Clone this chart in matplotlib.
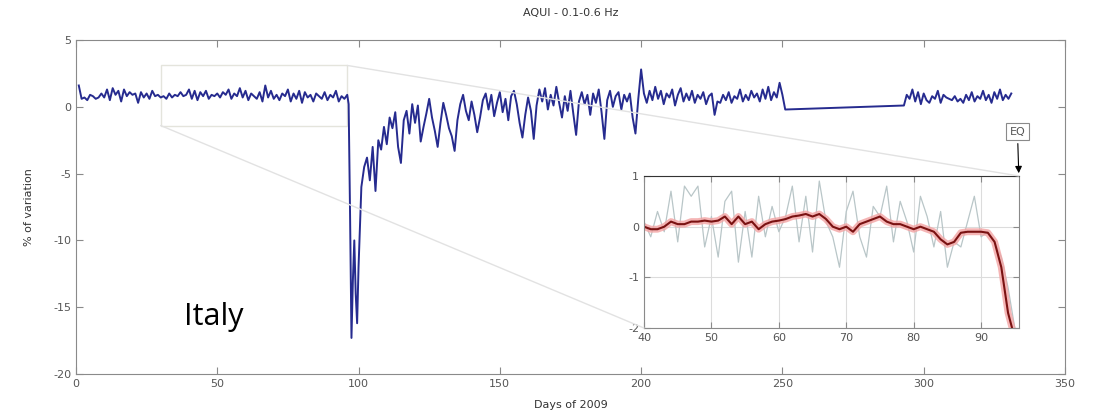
import numpy as np
import matplotlib
matplotlib.use("Agg")
import matplotlib.pyplot as plt
from matplotlib.patches import Rectangle, ConnectionPatch

plt.rcParams["axes.unicode_minus"] = False

# main series: days of 2009 and % of variation
days_a = list(range(1, 97))
vals_a = [1.6, 0.6, 0.7, 0.5, 0.9, 0.8, 0.6, 0.7, 1.0, 0.7, 1.3, 0.5, 1.4, 0.9, 1.2, 0.4,
          1.3, 0.8, 1.1, 0.9, 1.0, 0.3, 1.1, 0.7, 1.0, 0.6, 1.2, 0.8, 0.9, 0.7, 0.8, 0.6,
          1.0, 0.7, 0.9, 0.8, 1.1, 0.8, 0.9, 1.3, 0.6, 1.2, 0.5, 1.1, 0.8, 1.2, 0.6, 0.9,
          0.8, 1.0, 0.7, 1.1, 0.9, 1.3, 0.6, 1.0, 0.8, 1.4, 0.7, 1.2, 0.5, 1.0, 0.8, 0.6,
          1.1, 0.4, 1.6, 0.7, 1.2, 0.6, 0.9, 0.5, 1.0, 0.8, 1.3, 0.4, 1.0, 0.6, 1.2, 0.3,
          1.1, 0.7, 0.9, 0.4, 1.0, 0.8, 0.6, 1.1, 0.5, 0.9, 0.7, 1.2, 0.4, 0.8, 0.6, 0.9]

days_drop = [96.5, 97, 97.5, 98, 98.5, 99, 99.5, 100, 100.5]
vals_drop = [0.2, -8.0, -17.3, -13.0, -10.0, -14.0, -16.2, -12.0, -9.0]

days_b = list(range(101, 252))
vals_b = [-6.0, -4.5, -3.8, -5.5, -3.0, -6.3, -2.5, -3.2, -1.5, -2.8, -0.8, -1.6, -0.4,
          -3.0, -4.2, -1.0, -0.3, -2.0, 0.2, -1.2, 0.1, -2.6, -1.5, -0.5, 0.6, -0.8,
          -1.8, -3.0, -1.2, 0.3, -0.6, -1.6, -2.2, -3.3, -1.0, 0.2, 0.9, -0.3, -1.0,
          0.4, -0.6, -1.9, -0.8, 0.5, 1.0, -0.2, 0.9, -0.7, 0.3, 1.1, -0.4, 0.6, -1.0,
          0.8, 1.2, 0.2, -1.2, -2.3, -0.6, 0.7, -0.3, -2.4, 0.1, 1.3, 0.4, 1.4, -0.2,
          0.9, 0.1, 1.5, 0.3, -0.8, 0.8, -0.3, 1.2, -0.5, -2.1, 0.4, 1.1, 0.2, 0.9,
          -0.6, 1.0, 0.3, 1.3, -0.4, -2.4, 0.5, 1.2, 0.0, 0.8, 1.1, -0.2, 0.9, 0.4,
          1.0, -0.8, -2.0, 0.6, 2.8, 1.0, 0.3, 1.2, 0.5, 1.5, 0.6, 1.2, 0.2, 1.0, 0.7,
          1.3, 0.1, 0.9, 1.4, 0.4, 1.0, 0.5, 1.2, 0.3, 0.9, 0.6, 1.1, 0.2, 0.8, 1.0,
          -0.6, 0.4, 0.3, 0.9, 0.5, 1.1, 0.3, 0.8, 0.6, 1.3, 0.4, 0.9, 0.5, 1.2, 0.7,
          1.0, 0.4, 1.3, 0.6, 1.5, 0.5, 1.1, 0.7, 1.8, 0.9, -0.2]

days_c = list(range(293, 332))
vals_c = [0.1, 0.9, 0.6, 1.3, 0.4, 1.1, 0.2, 1.0, 0.5, 0.3, 0.8, 0.6, 1.2, 0.3, 0.9,
          0.7, 0.6, 0.5, 0.8, 0.4, 0.6, 0.3, 0.9, 0.5, 1.1, 0.4, 0.8, 0.6, 1.2, 0.5,
          0.9, 0.3, 1.1, 0.6, 1.3, 0.5, 0.9, 0.6, 1.0]

# inset: days 40-95, raw and smoothed
inset_days = list(range(40, 96))
inset_raw = [0.1, -0.2, 0.3, -0.1, 0.7, -0.3, 0.8, 0.6, 0.8, -0.4, 0.2, -0.6, 0.5,
             0.7, -0.7, 0.3, -0.6, 0.6, -0.2, 0.4, -0.1, 0.2, 0.8, -0.3, 0.6, -0.5,
             0.9, 0.1, -0.2, -0.8, 0.3, 0.7, -0.2, -0.6, 0.4, 0.2, 0.8, -0.3, 0.5,
             0.1, -0.5, 0.6, 0.2, -0.4, 0.3, -0.8, -0.3, -0.4, 0.1, 0.6, -0.2, -0.1,
             -0.3, -0.6, -1.2, -2.0]
inset_smooth = [0.0, -0.05, -0.05, 0.0, 0.1, 0.05, 0.05, 0.1, 0.1, 0.12, 0.1, 0.12,
                0.2, 0.05, 0.2, 0.05, 0.1, -0.05, 0.05, 0.1, 0.12, 0.15, 0.2, 0.22,
                0.25, 0.2, 0.25, 0.15, 0.0, -0.05, 0.0, -0.1, 0.05, 0.1, 0.15, 0.2,
                0.1, 0.05, 0.05, 0.0, -0.05, 0.0, -0.05, -0.1, -0.25, -0.35, -0.3,
                -0.12, -0.1, -0.1, -0.1, -0.12, -0.3, -0.8, -1.7, -2.2]

days = days_a + days_drop + days_b + days_c
vals = vals_a + vals_drop + vals_b + vals_c

grey = "#8a8a8a"
txt = "#555555"

fig = plt.figure(figsize=(10.96, 4.19), dpi=100)
ax = fig.add_axes([0.0693, 0.1074, 0.9024, 0.797])
ax.plot(days, vals, color="#262b8f", lw=1.4)
ax.set_xlim(0, 350)
ax.set_ylim(-20, 5)
ax.set_xticks([0, 50, 100, 150, 200, 250, 300, 350])
ax.set_yticks([5, 0, -5, -10, -15, -20])
ax.tick_params(direction="in", top=True, right=True, length=5, color=grey,
               labelsize=8, labelcolor=txt)
for s in ax.spines.values():
    s.set_color(grey)
ax.set_title("AQUI - 0.1-0.6 Hz", fontsize=8, color="#333333", pad=17)
ax.set_xlabel("Days of 2009", fontsize=8, color="#333333", labelpad=8)
ax.set_ylabel("% of variation", fontsize=8, color="#333333", labelpad=14)

# zoom rectangle on main axes
ax.add_patch(Rectangle((30, -1.4), 66, 4.5, fill=False, ec="#e4e4dc", lw=1.0))

ins = fig.add_axes([0.5876, 0.217, 0.342, 0.363])
ins.plot(inset_days, inset_raw, color="#b9c6c8", lw=0.9)
ins.plot(inset_days, inset_smooth, color="#f3a3a3", lw=5, alpha=0.8, solid_capstyle="round")
ins.plot(inset_days, inset_smooth, color="#7a1212", lw=1.5)
ins.set_xlim(40, 95.6)
ins.set_ylim(-2, 1)
ins.set_xticks([40, 50, 60, 70, 80, 90])
ins.set_yticks([1, 0, -1, -2])
ins.grid(True, color="#dcdcdc", lw=0.8)
ins.tick_params(direction="in", top=True, right=True, length=4, color=grey,
                labelsize=8, labelcolor=txt)
for s in ins.spines.values():
    s.set_color(grey)
ins.spines["top"].set_color("#333333")

# connector lines from zoom box to inset
for xa, ya, xb, yb in [(30, -1.4, 40, -2), (96, 3.1, 95.6, 1)]:
    con = ConnectionPatch(xyA=(xa, ya), coordsA=ax.transData,
                          xyB=(xb, yb), coordsB=ins.transData,
                          color="#e2e2e2", lw=1.0)
    fig.add_artist(con)
    con.set_zorder(0.5)

ins.annotate("EQ", xy=(95.6, 1), xycoords="data", xytext=(-1, 32), textcoords="offset points",
             ha="center", va="center", fontsize=8, color=txt,
             bbox=dict(boxstyle="square,pad=0.35", fc="white", ec=grey, lw=0.8),
             arrowprops=dict(arrowstyle="-|>", color="black", lw=0.8, mutation_scale=10))

fig.text(0.195, 0.243, "Italy", fontsize=22, family="Open Sans", ha="center", va="center")

fig.savefig("out.png", dpi=100)
